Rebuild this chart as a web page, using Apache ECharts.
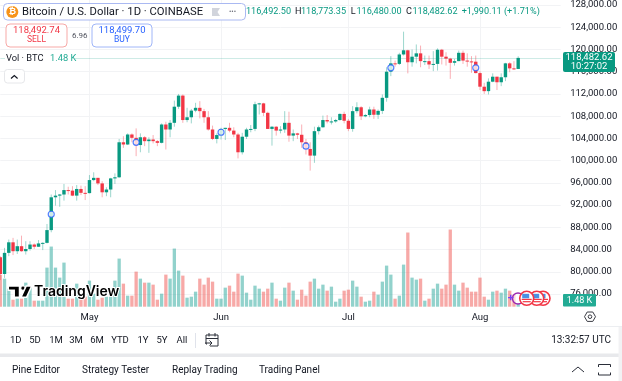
<!DOCTYPE html>
<html>
<head>
<meta charset="utf-8">
<style>
  html, body { margin: 0; padding: 0; background: #fff; }
  #chart { width: 622px; height: 381px; filter: blur(0.35px); }
</style>
<script src="https://cdn.jsdelivr.net/npm/echarts@6/dist/echarts.min.js"></script>
</head>
<body>
<div id="chart"></div>
<script>
// daily candles, 2025-04-10 .. 2025-08-10
const firstDay = '2025-04-10'
const dayCount = 133 // axis runs on past the last candle
const opens = [
  82600, 79600, 83400, 85300, 83700, 84600, 83700, 84100, 84900, 84500, 85100,
  85200, 87500, 93400, 93700, 93900, 94700, 94600, 93700, 94900, 94200,
  94150, 96500, 96900, 95900, 94300, 94800, 96800, 97000, 103300, 102900, 104700, 104100, 102800, 104200, 103500, 103800, 103500, 103200, 106500, 105600, 106800, 109700, 111700, 107300, 107800, 109000, 109500, 108900, 107800, 105600, 103900,
  104600, 105700, 105900, 105400, 104700, 101500, 104300, 105600, 105700, 110150, 110300, 108600, 105700, 106100, 105400, 105600, 106800, 104500, 104900, 104650, 103300, 102100, 100900, 105300, 106000, 107300, 107050, 107050, 107300, 108400,
  107170, 105700, 108900, 109600, 107970, 108200, 109200, 108250, 108950, 111300, 116000, 117500, 117400, 119100, 119850, 117700, 118700, 119300, 117900, 117900, 117300, 117400, 119950, 118700, 118350, 117600, 117900, 119400, 118000, 117850, 117800,
  115750, 113300, 112500, 114200, 115100, 114100, 115000, 117500, 116600, 116492.5
]
const highs = [
  82800, 84300, 85800, 86100, 85800, 86500, 85500, 85500, 85100, 85700, 85300,
  88600, 93900, 94700, 94000, 95800, 95300, 95400, 95600, 95500, 95400,
  97400, 97900, 96900, 96300, 95200, 96900, 97700, 103900, 104400, 104900, 104900, 105800, 104900, 104400, 104200, 104600, 103700, 106700, 107000, 107300, 110800, 112000, 111900, 109500, 109300, 110400, 110700, 109300, 108900, 106300, 104900,
  105900, 105900, 106800, 106000, 105000, 105000, 105900, 106400, 110600, 110400, 110400, 108800, 106200, 106200, 106200, 108900, 108800, 105600, 105000, 106500, 103900, 103300, 106100, 106300, 108100, 108200, 107800, 107500, 108500, 108800,
  107500, 109800, 110500, 109800, 108400, 109700, 109700, 109200, 111900, 116800, 118800, 118000, 119400, 123200, 119950, 120000, 120900, 120700, 118900, 118900, 119700, 120200, 120100, 119500, 118500, 118300, 119800, 119800, 119300, 118800, 118900,
  116100, 114000, 114800, 115700, 115100, 115700, 117600, 117700, 117900, 118773.35
]
const lows = [
  78500, 78900, 82800, 83000, 83200, 83600, 83100, 83800, 84100, 84500, 83900,
  85100, 87100, 91900, 91700, 92800, 93900, 93600, 92800, 93800, 92900,
  94100, 96300, 95600, 93400, 93600, 93400, 95800, 96900, 102300, 102800, 103300, 100800, 101500, 102600, 101400, 103100, 102600, 103100, 102000, 104200, 106100, 109300, 106800, 106900, 106700, 108700, 107600, 106800, 105400, 103700, 103100,
  103800, 103700, 105100, 104200, 100400, 101100, 103900, 105100, 105300, 108300, 108000, 105700, 102700, 104500, 104900, 105000, 103400, 103500, 103900, 102300, 101100, 98200, 99600, 104700, 105900, 106700, 106500, 106800, 107200, 106700,
  105300, 105200, 108500, 107300, 107800, 107800, 107500, 107500, 108400, 110600, 115200, 116900, 117200, 118900, 115700, 116900, 117500, 116800, 117200, 116500, 116100, 116200, 117300, 117100, 114700, 117100, 117900, 117400, 116900, 115800, 115700,
  112700, 112000, 111900, 114100, 112700, 113400, 114300, 115900, 116300, 116480
]
const closes = [
  79600, 83400, 85300, 83700, 84600, 83700, 84100, 84900, 84500, 85100, 85200,
  87500, 93400, 93700, 93900, 94700, 94600, 93700, 94900, 94200, 94150,
  96500, 96900, 95900, 94300, 94800, 96800, 97000, 103300, 102900, 104700, 104100, 102800, 104200, 103500, 103800, 103500, 103200, 106500, 105600, 106800, 109700, 111700, 107300, 107800, 109000, 109500, 108900, 107800, 105600, 103900, 104600,
  105700, 105900, 105400, 104700, 101500, 104300, 105600, 105700, 110150, 110300, 108600, 105700, 106100, 105400, 105600, 106800, 104500, 104900, 104650, 103300, 102100, 100900, 105300, 106000, 107300, 107050, 107050, 107300, 108400, 107170,
  105700, 108900, 109600, 107970, 108200, 109200, 108250, 108950, 111300, 116000, 117500, 117400, 119100, 119850, 117700, 118700, 119300, 117900, 117900, 117300, 117400, 119950, 118700, 118350, 117600, 117900, 119400, 118000, 117850, 117800, 115750,
  113300, 112500, 114200, 115100, 114100, 115000, 117500, 116600, 116492.5, 118482.62
]
// BTC volume, thousands
const volumes = [
  16, 14, 9, 3.5, 4, 4, 12, 10, 3, 3, 3,
  19.5, 30, 19.5, 14.5, 22, 4, 4, 11.5, 5, 5,
  13, 6.5, 3.5, 4.5, 5, 9, 13, 24, 11.5, 5.5, 5.5, 17.5, 14, 12, 12, 11, 3.5, 6.5, 16, 14, 29, 18, 15.5, 4.5, 5, 7.5, 14, 11, 14.5, 12.5, 4,
  4, 9.5, 10.5, 7.5, 16.5, 15.5, 7, 3.5, 10.5, 9, 7.5, 9, 12, 4, 3, 9.5, 12, 8, 3.5, 8.5, 5.5, 12.5, 14, 9, 11, 8, 10, 2.5, 4, 8,
  8.5, 13, 10, 5, 2.5, 3, 7.5, 6, 12.5, 20.5, 16, 4, 5.5, 21, 37, 14.5, 13.5, 14, 3, 4, 9, 11.5, 9, 11, 38.5, 11, 8, 12, 9.5, 7.5, 7.5,
  14.5, 5, 3.5, 7.5, 8, 7, 9, 8, 6, 1.48
]
// the blue circle events on the candles
const eventDays = [12, 32, 52, 72, 92, 112]
const eventPrices = [90350, 103300, 105100, 102600, 116700, 116700]
const monthNames = { '05': 'May', '06': 'Jun', '07': 'Jul', '08': 'Aug' }

const UP = '#089981'
const DOWN = '#f23645'
const FONT = 'Roboto, sans-serif'
const INK = '#131722'

let categories = []
let d0 = new Date(firstDay + 'T00:00:00Z')
for (let i = 0; i < dayCount; i++) {
  categories.push(new Date(d0.getTime() + i * 86400000).toISOString().slice(0, 10))
}
const isMonthStart = (i, v) => v.slice(8) === '01'

let candleData = opens.map((o, i) => [i, o, closes[i], lows[i], highs[i]])
let volumeData = volumes.map((v, i) => ({
  value: v,
  itemStyle: { color: closes[i] >= opens[i] ? 'rgba(38,166,154,0.5)' : 'rgba(239,83,80,0.5)' }
}))
let eventData = eventDays.map((d, i) => [d, eventPrices[i]])
const lastClose = closes[closes.length - 1]

function renderCandle (params, api) {
  const i = api.value(0)
  const o = api.coord([i, api.value(1)])
  const c = api.coord([i, api.value(2)])
  const l = api.coord([i, api.value(3)])
  const h = api.coord([i, api.value(4)])
  const up = api.value(2) >= api.value(1)
  const color = up ? UP : DOWN
  return {
    type: 'group',
    children: [{
      type: 'line',
      shape: { x1: o[0], y1: h[1], x2: o[0], y2: l[1] },
      style: { stroke: color, lineWidth: 1, opacity: 0.4 }
    }, {
      type: 'rect',
      shape: { x: o[0] - 1.7, y: Math.min(o[1], c[1]), width: 3.4, height: Math.max(Math.abs(o[1] - c[1]), 1) },
      style: { fill: color }
    }]
  }
}

// chrome helpers
function label (x, y, text, size, color, extra) {
  return {
    type: 'text',
    z: 100,
    x: x,
    y: y,
    style: Object.assign({
      text: text,
      fontSize: size,
      fontFamily: FONT,
      fill: color,
      verticalAlign: 'middle'
    }, extra || {})
  }
}
function box (x, y, w, h, fill, stroke, r, z) {
  return {
    type: 'rect',
    z: z || 99,
    shape: { x: x, y: y, width: w, height: h, r: r || 0 },
    style: { fill: fill, stroke: stroke || null, lineWidth: 1 }
  }
}
function stroke (points, color, width, z) {
  return {
    type: 'polyline',
    z: z || 100,
    shape: { points: points },
    style: { stroke: color, lineWidth: width || 1, fill: null }
  }
}
function flag (cx, cy, z) {
  return [
    { type: 'circle', z: z, shape: { cx: cx, cy: cy, r: 7 }, style: { fill: '#fff', stroke: DOWN, lineWidth: 1.6 } },
    { type: 'rect', z: z, shape: { x: cx - 5, y: cy + 0.5, width: 10, height: 1.2 }, style: { fill: DOWN } },
    { type: 'rect', z: z, shape: { x: cx - 4, y: cy + 2.8, width: 8, height: 1.2 }, style: { fill: DOWN } },
    { type: 'rect', z: z, shape: { x: cx - 4.5, y: cy - 4.5, width: 7, height: 4.5 }, style: { fill: '#4a90e2' } }
  ]
}

let chrome = [
  // header
  box(3.5, 3.5, 242, 16.5, '#fff', '#aab9f2', 4),
  { type: 'circle', z: 100, shape: { cx: 12.3, cy: 12, r: 6 }, style: { fill: '#f7931a' } },
  label(12.3, 12, '₿', 9, '#fff', { align: 'center', fontWeight: 'bold' }),
  label(22, 12, 'Bitcoin / U.S. Dollar · 1D · COINBASE', 11.25, INK),
  { type: 'polygon', z: 100, shape: { points: [[212, 8], [220, 8], [217.5, 12], [220, 16], [212, 16]] }, style: { fill: '#d1d4dc' } },
  label(229, 12, '•••', 7, '#6a6d78'),
  label(246, 12, '116,492.50', 9.1, UP),
  label(295, 12, 'H', 9.1, INK),
  label(301, 12, '118,773.35', 9.1, UP),
  label(350.7, 12, 'L', 9.1, INK),
  label(356.5, 12, '116,480.00', 9.1, UP),
  label(406, 12, 'C', 9.1, INK),
  label(412.5, 12, '118,482.62', 9.1, UP),
  label(461.7, 12, '+1,990.11 (+1.71%)', 9.1, UP),
  // sell / buy
  box(6, 24, 61, 23, '#fff', '#f7a9a7', 4),
  label(36.5, 30.5, '118,492.74', 9.5, DOWN, { align: 'center' }),
  label(36.5, 40, 'SELL', 8.5, DOWN, { align: 'center' }),
  label(72, 35.5, '6.96', 8, '#50535e'),
  box(92, 24, 60, 23, '#fff', '#a0b6f8', 4),
  label(122, 30.5, '118,499.70', 9.5, '#2962ff', { align: 'center' }),
  label(122, 40, 'BUY', 8.5, '#2962ff', { align: 'center' }),
  // volume legend
  box(5, 52, 70, 12, '#fff', null, 0, 98),
  label(6, 58.5, 'Vol · BTC', 9.3, INK),
  label(50, 58.5, '1.48 K', 9.3, '#22ab94'),
  box(4.5, 69.5, 20, 13.5, '#fff', '#e6e7ea', 3),
  stroke([[11, 78.5], [14.3, 75.5], [17.6, 78.5]], '#131722', 1.2),
  // price tags
  box(563, 52, 52, 20, UP, null, 2),
  label(589, 57.5, '118,482.62', 9.5, '#fff', { align: 'center' }),
  label(589, 67, '10:27:02', 9.5, '#fff', { align: 'center' }),
  box(563, 294, 33, 12.5, '#22ab94', null, 1),
  label(579.5, 300.5, '1.48 K', 9, '#fff', { align: 'center' }),
  // settings hexagon
  { type: 'polygon', z: 100, shape: { points: [[584.5, 316.7], [587.2, 312], [592.8, 312], [595.5, 316.7], [592.8, 321.4], [587.2, 321.4]] }, style: { fill: null, stroke: '#3b3d45', lineWidth: 1 } },
  { type: 'circle', z: 100, shape: { cx: 590, cy: 316.7, r: 1.8 }, style: { fill: null, stroke: '#3b3d45', lineWidth: 1 } },
  // rows under the chart
  box(0, 326, 622, 1, '#eceef1', null, 0, 90),
  label(15.7, 340.5, '1D', 9.5, INK, { align: 'center' }),
  label(35, 340.5, '5D', 9.5, INK, { align: 'center' }),
  label(56, 340.5, '1M', 9.5, INK, { align: 'center' }),
  label(76, 340.5, '3M', 9.5, INK, { align: 'center' }),
  label(97, 340.5, '6M', 9.5, INK, { align: 'center' }),
  label(120, 340.5, 'YTD', 9.5, INK, { align: 'center' }),
  label(143, 340.5, '1Y', 9.5, INK, { align: 'center' }),
  label(162, 340.5, '5Y', 9.5, INK, { align: 'center' }),
  label(182, 340.5, 'All', 9.5, INK, { align: 'center' }),
  box(195, 333, 1, 15, '#e0e3eb', null, 0),
  stroke([[207, 344], [206, 344], [206, 335], [218, 335], [218, 346], [210, 346]], '#2a2e39'),
  stroke([[206, 338.5], [218, 338.5]], '#2a2e39'),
  stroke([[209, 333], [209, 336.5]], '#2a2e39'),
  stroke([[215, 333], [215, 336.5]], '#2a2e39'),
  stroke([[205, 343], [212, 343]], '#2a2e39'),
  stroke([[209.5, 340.5], [212, 343], [209.5, 345.5]], '#2a2e39'),
  label(611, 340.5, '13:32:57 UTC', 10, INK, { align: 'right' }),
  box(0, 353.5, 622, 3.5, '#e8e9ec', null, 0, 90),
  box(618.5, 327, 3.5, 54, '#f2f2f4', null, 0, 91),
  label(12, 370, 'Pine Editor', 10, INK),
  label(82, 370, 'Strategy Tester', 10, INK),
  label(172, 370, 'Replay Trading', 10, INK),
  label(259, 370, 'Trading Panel', 10, INK),
  stroke([[572, 372], [578, 367], [584, 372]], '#2a2e39'),
  stroke([[598.5, 367], [598.5, 364.5], [610.5, 364.5], [610.5, 367]], '#2a2e39'),
  stroke([[598.5, 372.5], [598.5, 375], [610.5, 375], [610.5, 372.5]], '#2a2e39'),
  // watermark
  { type: 'polygon', z: 60, shape: { points: [[8.3, 286], [19.5, 286], [19.5, 297.3], [14.2, 297.3], [14.2, 290.2], [8.3, 290.2]] }, style: { fill: '#000', stroke: '#fff', lineWidth: 1.5 } },
  { type: 'circle', z: 60, shape: { cx: 23, cy: 288.1, r: 2.2 }, style: { fill: '#000', stroke: '#fff', lineWidth: 1 } },
  { type: 'polygon', z: 60, shape: { points: [[26.2, 286], [31.7, 286], [26.5, 297.3], [21, 297.3]] }, style: { fill: '#000', stroke: '#fff', lineWidth: 1.5 } },
  label(34, 292, 'TradingView', 14, '#000', { fontFamily: 'Inter, Roboto, sans-serif', fontWeight: 600, stroke: '#fff', lineWidth: 2 }),
  // calendar events
  { type: 'circle', z: 70, shape: { cx: 518, cy: 298.5, r: 5.5 }, style: { fill: 'rgba(255,255,255,0.6)', stroke: '#9c27b0', lineWidth: 1.4 } },
  label(510.7, 298.5, '+', 11, '#7b3ff2', { align: 'center', fontWeight: 'bold' })
].concat(flag(543, 298.3, 71), flag(536.7, 298.3, 72), flag(526.7, 298.3, 73))

let myChart = echarts.init(document.getElementById('chart'), null, { renderer: 'canvas' })
let option = {
  animation: false,
  backgroundColor: '#fff',
  textStyle: { fontFamily: FONT },
  grid: [
    { left: 0.3, top: 4, width: 560.34, height: 290 },
    { left: 0.3, top: 0, width: 560.34, height: 306.7 }
  ],
  xAxis: [{
    type: 'category',
    gridIndex: 0,
    boundaryGap: false,
    data: categories,
    axisLine: { show: false },
    axisTick: { show: false },
    axisLabel: { show: false },
    splitLine: { show: false }
  }, {
    type: 'category',
    gridIndex: 1,
    boundaryGap: false,
    data: categories,
    axisLine: { show: false },
    axisTick: { show: false },
    axisLabel: {
      interval: isMonthStart,
      formatter: v => monthNames[v.slice(5, 7)],
      color: INK,
      fontSize: 9.5,
      fontFamily: FONT,
      margin: 6
    },
    splitLine: { show: true, interval: isMonthStart, lineStyle: { color: '#f2f3f5', width: 1 } }
  }],
  yAxis: [{
    type: 'value',
    gridIndex: 0,
    position: 'right',
    min: 76000,
    max: 128000,
    interval: 4000,
    axisLine: { show: false },
    axisTick: { show: false },
    axisLabel: {
      color: INK,
      fontSize: 9.5,
      fontFamily: FONT,
      margin: 9.5,
      formatter: v => v.toLocaleString('en-US', { minimumFractionDigits: 2 })
    },
    splitLine: { show: true, lineStyle: { color: '#f2f3f5', width: 1 } }
  }, {
    type: 'value',
    gridIndex: 1,
    min: 0,
    max: 153,
    show: false
  }],
  series: [{
    name: 'Volume',
    type: 'bar',
    xAxisIndex: 1,
    yAxisIndex: 1,
    barWidth: 3.3,
    clip: false,
    silent: true,
    data: volumeData
  }, {
    name: 'BTCUSD',
    type: 'custom',
    xAxisIndex: 0,
    yAxisIndex: 0,
    clip: false,
    silent: true,
    z: 5,
    renderItem: renderCandle,
    encode: { x: 0, y: [1, 2, 3, 4] },
    data: candleData,
    markLine: {
      silent: true,
      symbol: 'none',
      label: { show: false },
      lineStyle: { color: UP, width: 1, type: 'solid', opacity: 0.2 },
      data: [{ yAxis: lastClose }]
    }
  }, {
    name: 'Events',
    type: 'scatter',
    xAxisIndex: 0,
    yAxisIndex: 0,
    z: 6,
    silent: true,
    symbol: 'circle',
    symbolSize: 6,
    itemStyle: { color: '#fff', borderColor: '#2962ff', borderWidth: 1.2 },
    data: eventData
  }],
  graphic: chrome
}
myChart.setOption(option, true)
</script>
</body>
</html>
